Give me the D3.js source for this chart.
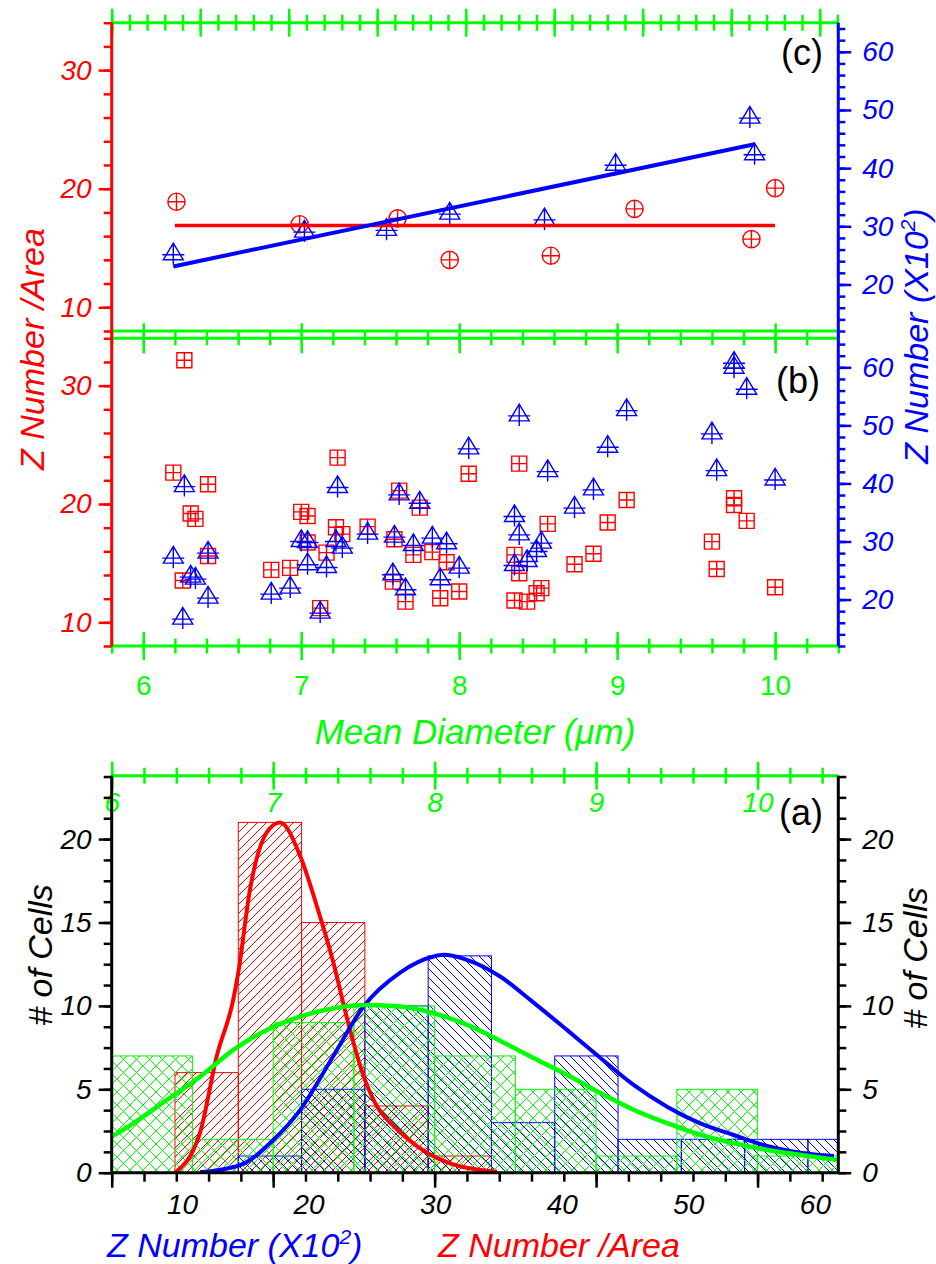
<!DOCTYPE html>
<html>
<head>
<meta charset="utf-8">
<script src="https://cdn.jsdelivr.net/npm/d3@7"></script>
<style>
body { margin: 0; background: #fff; }
svg { display: block; }
</style>
</head>
<body>
<svg id="chart" width="936" height="1264"></svg>
<script>
// ---- panel (c): per-sample means vs mean diameter ----
var cRedDiam = [6.21, 6.99, 7.61, 7.94, 8.58, 9.11, 9.85, 10.0];
var cRedVal = [18.9, 17.0, 17.5, 14.0, 14.35, 18.3, 15.75, 20.05];
var cBlueDiam = [6.19, 7.02, 7.54, 7.94, 8.54, 8.99, 9.84, 9.87];
var cBlueVal = [25.1, 29.0, 29.3, 32.1, 31.1, 40.5, 48.6, 42.3];
var cRedFitDiam = [6.2, 10.0], cRedFitVal = [16.9, 16.9];
var cBlueFitDiam = [6.19, 9.87], cBlueFitVal = [23.1, 44.1];

// ---- panel (b): single cells ----
var bDiam = [6.19, 6.25, 6.26, 6.30, 6.33, 6.41, 6.41, 6.81, 6.93, 7.00, 7.04, 7.04, 7.12, 7.16, 7.22, 7.23,
  7.26, 7.42, 7.58, 7.59, 7.62, 7.66, 7.71, 7.75, 7.83, 7.88, 7.92, 8.00, 8.06, 8.35, 8.35, 8.38,
  8.38, 8.43, 8.49, 8.52, 8.56, 8.73, 8.85, 8.94, 9.06, 9.60, 9.63, 9.74, 9.74, 9.82, 10.0];
var bRed = [22.65, 13.53, 32.14, 19.19, 18.74, 21.67, 15.61, 14.43, 14.6, 19.33, 18.99, 16.74, 11.2, 15.89, 18.04, 23.92,
  17.45, 18.09, 13.44, 17.02, 21.13, 11.75, 15.7, 19.69, 15.93, 12.04, 15.08, 12.6, 22.56, 15.7, 11.84, 23.41,
  14.15, 11.75, 12.46, 12.89, 18.32, 14.91, 15.8, 18.43, 20.34, 16.82, 14.51, 20.48, 19.92, 18.57, 12.97];
var bBlue = [27.13, 16.63, 39.46, 23.86, 23.52, 28.0, 20.25, 20.94, 21.97, 30.0, 29.82, 26.0, 17.67, 25.52, 30.0, 39.29,
  28.86, 31.27, 24.26, 30.75, 38.03, 21.68, 29.3, 36.6, 30.58, 23.4, 29.6, 25.41, 45.95, 34.3, 25.86, 51.63,
  31.14, 26.55, 28.27, 29.72, 42.04, 35.74, 38.89, 46.24, 52.54, 48.53, 42.2, 60.7, 59.84, 56.22, 40.6];

// ---- panel (a): histograms ----
var zBinWidth = 5, diamBinWidth = 0.5;
var redBinStart = [10, 15, 20, 25, 30];
var redCounts = [6, 21, 15, 4, 1];
var blueBinStart = [15, 20, 25, 30, 35, 40, 45, 50, 55, 60];
var blueCounts = [1, 5, 10, 13, 3, 7, 2, 2, 2, 2];
var greenBinStart = [6.0, 6.5, 7.0, 7.5, 8.0, 8.5, 9.0, 9.5, 10.0];
var greenCounts = [7, 2, 9, 10, 7, 5, 1, 5, 1];

// fitted curves
var redCurveZ = [10.0, 11.98, 13.3, 14.61, 15.0, 15.93, 17.25, 18.3, 19.88, 21.2, 22.51, 23.57, 24.89, 25.94, 27.26, 29.11, 31.74, 35.43];
var redCurveN = [0, 2.4, 7.0, 10.4, 12.0, 17.0, 20.4, 21.0, 19.0, 16.0, 12.6, 9.3, 5.8, 4.0, 2.8, 1.6, 0.56, 0.06];
var blueCurveZ = [11.98, 15.14, 17.77, 19.88, 22.51, 24.89, 27.79, 30.42, 31.21, 33.06, 35.69, 38.06, 40.96, 43.64, 46.23, 48.87, 51.5, 54.13, 56.77, 59.41, 62.06];
var blueCurveN = [0.02, 0.45, 1.96, 3.75, 7.0, 9.96, 12.0, 12.96, 13.06, 12.76, 11.76, 10.36, 8.56, 6.86, 5.26, 3.96, 2.96, 2.26, 1.6, 1.2, 1.0];
var greenCurveD = [6.0, 6.134, 6.341, 6.548, 6.754, 6.961, 7.168, 7.374, 7.581, 7.788, 7.994, 8.202, 8.408, 8.615, 8.822, 9.029, 9.235, 9.442, 9.648, 9.855, 10.062, 10.269, 10.492];
var greenCurveN = [2.16, 2.96, 4.36, 5.76, 7.36, 8.56, 9.36, 9.86, 10.06, 9.96, 9.56, 8.86, 7.9, 6.86, 5.86, 4.76, 3.76, 2.96, 2.26, 1.76, 1.36, 1.06, 0.76];

// tick labels
var areaTicks = [10, 20, 30];
var zRightTicks = [20, 30, 40, 50, 60];
var diamTicks = [6, 7, 8, 9, 10];
var countTicks = [0, 5, 10, 15, 20];
var zTicks = [10, 20, 30, 40, 50, 60];

var RED = "#ff0000", BLUE = "#0000ff", GREEN = "#00ff00", BLACK = "#000";
var FONT = "'Liberation Sans', Arial, sans-serif";

var svg = d3.select("#chart");
var defs = svg.append("defs");

var L = 111.7, R = 838.3;
var cTop = 22.7, cBot = 331, bTop = 338.3, bBot = 646, aTop = 775.7, aBot = 1172.7;

var xDiam = d3.scaleLinear().domain([5.8, 10.4]).range([L, R]);
var xTopC = d3.scaleLinear().domain([0, 8.21]).range([L, R]);
var yAreaC = d3.scaleLinear().domain([8, 34]).range([cBot, cTop]);
var yZC = d3.scaleLinear().domain([12, 65]).range([cBot, cTop]);
var yAreaB = d3.scaleLinear().domain([8, 34]).range([bBot, bTop]);
var yZB = d3.scaleLinear().domain([12, 65]).range([bBot, bTop]);
var xDiamA = d3.scaleLinear().domain([6, 10.5]).range([L, R]);
var xZ = d3.scaleLinear().domain([5, 62.4]).range([L, R]);
var yCount = d3.scaleLinear().domain([0, 23.8]).range([aBot, aTop]);

function steps(a, b, s) {
  var n = Math.round((b - a) / s);
  return d3.range(n + 1).map(function (i) { return +(a + i * s).toFixed(4); });
}

// tick marks only
function tickAxis(x, y, axis, scale, vals, len, color, cross) {
  var g = svg.append("g").attr("transform", "translate(" + x + "," + y + ")")
    .call(axis(scale).tickValues(vals).tickSize(len).tickSizeOuter(0).tickFormat(""));
  g.select(".domain").remove();
  var lines = g.selectAll(".tick line").attr("stroke", color).attr("stroke-width", 2.5);
  if (cross) {
    var horiz = axis === d3.axisTop || axis === d3.axisBottom;
    var back = (axis === d3.axisTop || axis === d3.axisLeft) ? len : -len;
    lines.attr(horiz ? "y1" : "x1", back);
  }
}

// tick labels only
function labelAxis(x, y, axis, scale, vals, pad, color, size, italic, dx) {
  var g = svg.append("g").attr("transform", "translate(" + x + "," + y + ")")
    .call(axis(scale).tickValues(vals).tickSize(0).tickPadding(pad).tickFormat(d3.format("d")));
  g.select(".domain").remove();
  g.attr("font-family", FONT).attr("font-size", size);
  g.selectAll("text").attr("fill", color).style("font-style", italic ? "italic" : "normal");
  if (dx) g.selectAll("text").attr("dx", dx);
}

function axisLine(x1, y1, x2, y2, color) {
  svg.append("line").attr("x1", x1).attr("y1", y1).attr("x2", x2).attr("y2", y2)
    .attr("stroke", color).attr("stroke-width", 3);
}

function title(text, x, y, color, size, rotate, anchor, italic) {
  var t = svg.append("text")
    .attr("transform", "translate(" + x + "," + y + ")" + (rotate ? " rotate(-90)" : ""))
    .attr("text-anchor", anchor || "middle")
    .attr("fill", color).attr("font-family", FONT).attr("font-size", size)
    .style("font-style", italic === false ? "normal" : "italic");
  return t.text(text);
}

function zTitle(x, y, rotate, anchor) {
  var t = title("", x, y, BLUE, 34, rotate, anchor);
  t.append("tspan").text("Z Number (X10");
  t.append("tspan").text("2").attr("dy", -13).attr("font-size", 21);
  t.append("tspan").text(")").attr("dy", 13);
}

// marker paths
function triPlus(x, y) {
  return "M" + x + "," + (y - 11.7) + "L" + (x + 10) + "," + (y + 5) + "L" + (x - 10) + "," + (y + 5) + "Z" +
    "M" + (x - 11) + "," + y + "H" + (x + 11) + "M" + x + "," + (y - 10) + "V" + (y + 10);
}
function squarePlus(x, y) {
  return "M" + (x - 7.5) + "," + (y - 7.5) + "h15v15h-15Z" +
    "M" + (x - 7.5) + "," + y + "H" + (x + 7.5) + "M" + x + "," + (y - 7.5) + "V" + (y + 7.5);
}
function circlePlus(x, y) {
  var r = 8.6;
  return "M" + (x + r) + "," + y + "A" + r + "," + r + " 0 1,1 " + (x - r) + "," + y + "A" + r + "," + r + " 0 1,1 " + (x + r) + "," + y +
    "M" + (x - r) + "," + y + "H" + (x + r) + "M" + x + "," + (y - r) + "V" + (y + r);
}

// ================= panel (c) =================
svg.append("g").selectAll("path").data(d3.zip(cRedDiam, cRedVal)).join("path")
  .attr("d", function (d) { return circlePlus(xDiam(d[0]), yAreaC(d[1])); })
  .attr("fill", "none").attr("stroke", RED).attr("stroke-width", 1.4);
svg.append("g").selectAll("path").data(d3.zip(cBlueDiam, cBlueVal)).join("path")
  .attr("d", function (d) { return triPlus(xDiam(d[0]), yZC(d[1])); })
  .attr("fill", "none").attr("stroke", BLUE).attr("stroke-width", 1.4);

svg.append("path").datum(d3.zip(cRedFitDiam, cRedFitVal))
  .attr("d", d3.line().x(function (d) { return xDiam(d[0]); }).y(function (d) { return yAreaC(d[1]); }))
  .attr("stroke", RED).attr("stroke-width", 3.5).attr("fill", "none");
svg.append("path").datum(d3.zip(cBlueFitDiam, cBlueFitVal))
  .attr("d", d3.line().x(function (d) { return xDiam(d[0]); }).y(function (d) { return yZC(d[1]); }))
  .attr("stroke", BLUE).attr("stroke-width", 4).attr("fill", "none");

// top green axis of (c)
tickAxis(0, cTop, d3.axisTop, xTopC, steps(0, 8.2, 0.2), 8, GREEN, true);
tickAxis(0, cTop, d3.axisTop, xTopC, steps(0, 8, 1), 14, GREEN, true);
axisLine(L, cTop, R, cTop, GREEN);
// bottom line of (c)
axisLine(L, cBot, R, cBot, GREEN);

// left / right axes of (c)
tickAxis(L, 0, d3.axisLeft, yAreaC, steps(8, 34, 2), 8, RED);
tickAxis(L, 0, d3.axisLeft, yAreaC, areaTicks, 13, RED);
labelAxis(L, 0, d3.axisLeft, yAreaC, areaTicks, 20, RED, 28, true);
tickAxis(R, 0, d3.axisRight, yZC, steps(12, 64, 2), 7, BLUE);
tickAxis(R, 0, d3.axisRight, yZC, zRightTicks, 13, BLUE);
labelAxis(R, 0, d3.axisRight, yZC, zRightTicks, 24, BLUE, 28, true);

// ================= panel (b) =================
svg.append("g").selectAll("path").data(d3.zip(bDiam, bRed)).join("path")
  .attr("d", function (d) { return squarePlus(xDiam(d[0]), yAreaB(d[1])); })
  .attr("fill", "none").attr("stroke", RED).attr("stroke-width", 1.4);
svg.append("g").selectAll("path").data(d3.zip(bDiam, bBlue)).join("path")
  .attr("d", function (d) { return triPlus(xDiam(d[0]), yZB(d[1])); })
  .attr("fill", "none").attr("stroke", BLUE).attr("stroke-width", 1.4);

tickAxis(0, bTop, d3.axisBottom, xDiam, steps(5.8, 10.4, 0.2), 7, GREEN, true);
tickAxis(0, bTop, d3.axisBottom, xDiam, diamTicks, 15, GREEN, true);
axisLine(L, bTop, R, bTop, GREEN);
tickAxis(0, bBot, d3.axisBottom, xDiam, steps(5.8, 10.4, 0.2), 7.5, GREEN, true);
tickAxis(0, bBot, d3.axisBottom, xDiam, diamTicks, 14, GREEN, true);
axisLine(L, bBot, R, bBot, GREEN);
labelAxis(0, bBot, d3.axisBottom, xDiam, diamTicks, 29, GREEN, 28, false);

tickAxis(L, 0, d3.axisLeft, yAreaB, steps(8, 34, 2), 8, RED);
tickAxis(L, 0, d3.axisLeft, yAreaB, areaTicks, 13, RED);
labelAxis(L, 0, d3.axisLeft, yAreaB, areaTicks, 20, RED, 28, true);
tickAxis(R, 0, d3.axisRight, yZB, steps(12, 64, 2), 7, BLUE);
tickAxis(R, 0, d3.axisRight, yZB, zRightTicks, 13, BLUE);
labelAxis(R, 0, d3.axisRight, yZB, zRightTicks, 24, BLUE, 28, true);

axisLine(L, cTop, L, bBot, RED);
axisLine(R, cTop, R, bBot, BLUE);

title("Mean Diameter (\u03bcm)", 475, 744, GREEN, 35);
title("Z Number /Area", 44, 349, RED, 34, true);
zTitle(928, 336, true, "middle");

// ================= panel (a) =================
function hatch(id, size, d, color) {
  defs.append("pattern").attr("id", id).attr("patternUnits", "userSpaceOnUse")
    .attr("width", size).attr("height", size)
    .append("path").attr("d", d).attr("stroke", color).attr("stroke-width", 1).attr("fill", "none");
}
hatch("hatchRed", 9, "M0,9L9,0M-2,2L2,-2M7,11L11,7", RED);
hatch("hatchBlue", 9, "M0,0L9,9M-2,7L2,11M7,-2L11,2", BLUE);
hatch("hatchGreen", 13, "M0,0L13,13M13,0L0,13", GREEN);

defs.append("clipPath").attr("id", "clipA").append("rect")
  .attr("x", L).attr("y", aTop).attr("width", R - L).attr("height", aBot - aTop);

var plotA = svg.append("g").attr("clip-path", "url(#clipA)");

function bars(starts, counts, width, xs, fill, color) {
  plotA.append("g").selectAll("rect").data(d3.zip(starts, counts)).join("rect")
    .attr("x", function (d) { return xs(d[0]); })
    .attr("width", function (d) { return xs(d[0] + width) - xs(d[0]); })
    .attr("y", function (d) { return yCount(d[1]); })
    .attr("height", function (d) { return yCount(0) - yCount(d[1]); })
    .attr("fill", "url(#" + fill + ")").attr("stroke", color).attr("stroke-width", 1);
}
bars(redBinStart, redCounts, zBinWidth, xZ, "hatchRed", RED);
bars(blueBinStart, blueCounts, zBinWidth, xZ, "hatchBlue", BLUE);
bars(greenBinStart, greenCounts, diamBinWidth, xDiamA, "hatchGreen", GREEN);

function curve(xs, ys, xScale, color, w) {
  plotA.append("path").datum(d3.zip(xs, ys))
    .attr("d", d3.line().curve(d3.curveMonotoneX)
      .x(function (d) { return xScale(d[0]); }).y(function (d) { return yCount(d[1]); }))
    .attr("fill", "none").attr("stroke", color).attr("stroke-width", w);
}
curve(redCurveZ, redCurveN, xZ, RED, 4);
curve(blueCurveZ, blueCurveN, xZ, BLUE, 4);
curve(greenCurveD, greenCurveN, xDiamA, GREEN, 4.5);

// top green axis (diameter)
tickAxis(0, aTop, d3.axisTop, xDiamA, steps(6, 10.4, 0.2), 8, GREEN, true);
tickAxis(0, aTop, d3.axisTop, xDiamA, diamTicks, 14, GREEN, true);
axisLine(L, aTop, R, aTop, GREEN);
labelAxis(0, aTop, d3.axisBottom, xDiamA, diamTicks, 16.5, GREEN, 28, true);

// bottom black axis: diameter ticks, Z labels
tickAxis(0, aBot, d3.axisBottom, xDiamA, steps(6, 10.4, 0.2), 9, BLACK);
tickAxis(0, aBot, d3.axisBottom, xDiamA, diamTicks, 15, BLACK);
labelAxis(0, aBot, d3.axisBottom, xZ, zTicks, 21, BLACK, 28, true, 7);

// left / right count axes
tickAxis(L, 0, d3.axisLeft, yCount, steps(0, 23.75, 1.25), 8, BLACK);
tickAxis(L, 0, d3.axisLeft, yCount, countTicks, 13, BLACK);
labelAxis(L, 0, d3.axisLeft, yCount, countTicks, 20, BLACK, 28, true);
tickAxis(R, 0, d3.axisRight, yCount, steps(0, 23.75, 1.25), 8, BLACK);
tickAxis(R, 0, d3.axisRight, yCount, countTicks, 13, BLACK);
labelAxis(R, 0, d3.axisRight, yCount, countTicks, 24, BLACK, 28, true);
axisLine(L, aTop, L, aBot, BLACK);
axisLine(R, aTop, R, aBot, BLACK);
axisLine(L, aBot, R, aBot, BLACK);

title("# of Cells", 52, 955, BLACK, 34, true);
title("# of Cells", 927, 958, BLACK, 34, true);
zTitle(107, 1257, false, "start");
title("Z Number /Area", 438, 1257, RED, 34, false, "start");

// panel letters
title("(c)", 823, 65, BLACK, 36, false, "end", false);
title("(b)", 820, 393, BLACK, 36, false, "end", false);
title("(a)", 823, 825, BLACK, 36, false, "end", false);
</script>
</body>
</html>
